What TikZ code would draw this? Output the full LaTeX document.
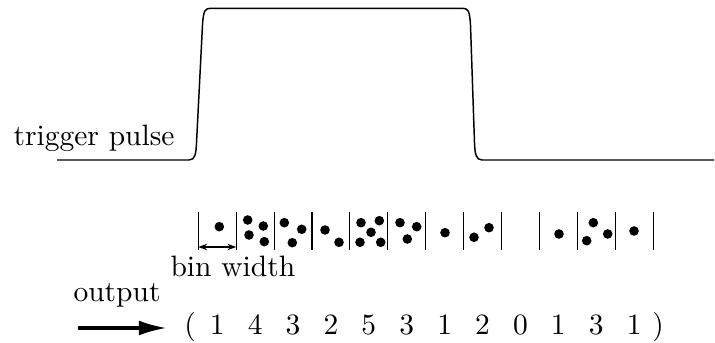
\documentclass[tikz,border=0pt]{standalone}
\usetikzlibrary{arrows.meta}
\begin{document}
\begin{tikzpicture}[x=0.339pt,y=-0.339pt,
  lbl/.style={inner sep=0pt,anchor=base},
  binline/.style={line width=0.4pt},
  pulse/.style={line width=0.5pt,line join=round},
  photon/.style={fill=black}]
\useasboundingbox (0,0) rectangle (715,343);

% trigger pulse
\draw[pulse] (57,160) -- (189,160)
  .. controls (195,160) and (196,154) .. (196.5,143)
  -- (202.5,25) .. controls (203.5,10) and (205,8.3) .. (211,8.3)
  -- (462,8.3) .. controls (468,8.3) and (469.5,10) .. (470.5,25)
  -- (474.5,143) .. controls (475,154) and (476,160) .. (482,160)
  -- (714,160);
\node[lbl,anchor=base west] (trig) at (13,146) {trigger pulse};

% bin boundaries
\foreach \k in {0,...,12}
  \draw[binline] ({198.3+37.9*\k},212) -- ({198.3+37.9*\k},250);

% detected photons
\foreach \p in {(219.3,226.7),
  (247.7,220),(263.3,226),(249,235),(264.3,241.7),
  (284.3,222.7),(301.7,229.3),(292.3,242.7),
  (325,230),(339,242.3),
  (361,222.7),(379.3,220.7),(371,232.3),(360,242.3),(380.7,242.3),
  (400,222.7),(416.7,226.7),(407.3,239),
  (445,232.7),
  (474,237.3),(489,227.7),
  (559,234),
  (593.3,222.7),(586.7,240.7),(607.7,234),
  (634,231)}
  \fill[photon] \p circle (4.8);

% bin width marker
\coordinate (bwL) at (198.3,247);
\coordinate (bwR) at (236.2,247);
\draw[line width=0.4pt,{Stealth[length=3pt,width=2.2pt]}-{Stealth[length=3pt,width=2.2pt]}] (bwL) -- (bwR);
\node[lbl,anchor=base west] (bw) at (170,276.5) {bin width};

% output sequence
\node[lbl,anchor=base west] (outlbl) at (73,302) {output};
\node[lbl] (lp) at (190,335) {(};
\node[lbl] (rp) at (658,335) {)};
\foreach \n [count=\i from 0] in {1,4,3,2,5,3,1,2,0,1,3,1}
  \node[lbl] (c\i) at ({198.3+37.9*(\i+0.5)},335) {\n};
\coordinate (arrS) at (78,328);
\coordinate (arrE) at (167,328);
\draw[line width=1.1pt,-{Latex[length=9.5pt,width=5pt]}] (arrS) -- (arrE);
\end{tikzpicture}
\end{document}
